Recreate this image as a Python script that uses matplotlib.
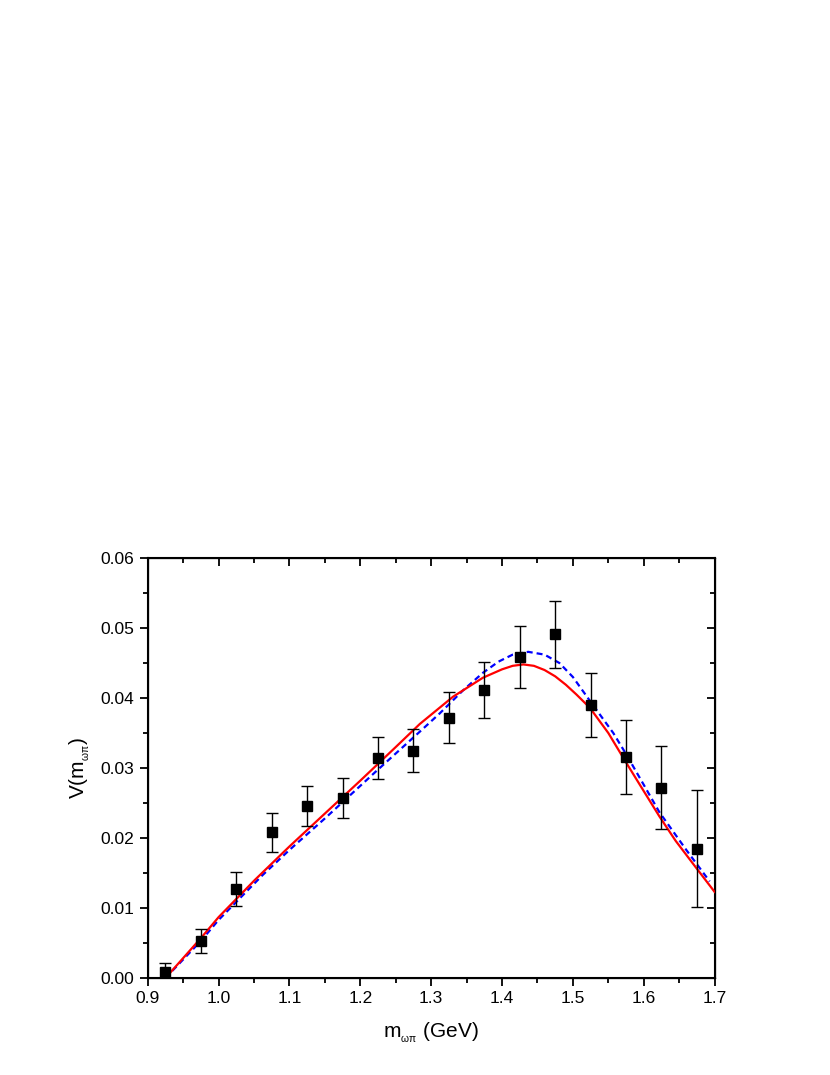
import numpy as np
import matplotlib
matplotlib.use('Agg')
import matplotlib.pyplot as plt
from matplotlib.ticker import MultipleLocator, FormatStrFormatter

plt.rcParams['font.family'] = ['Liberation Sans', 'DejaVu Sans']
plt.rcParams['mathtext.fontset'] = 'custom'
plt.rcParams['mathtext.rm'] = 'Liberation Sans'
plt.rcParams['mathtext.it'] = 'Liberation Sans'

# data points with errors
m_data = [0.925, 0.975, 1.025, 1.075, 1.125, 1.175, 1.225, 1.275,
          1.325, 1.375, 1.425, 1.475, 1.525, 1.575, 1.625, 1.675]
v_data = [0.0008, 0.0053, 0.0127, 0.0208, 0.0246, 0.0257, 0.0315, 0.0325,
          0.0372, 0.0411, 0.0459, 0.0491, 0.0390, 0.0316, 0.0272, 0.0185]
v_err = [0.0014, 0.0017, 0.0024, 0.0028, 0.0029, 0.0029, 0.0030, 0.0031,
         0.0036, 0.0040, 0.0044, 0.0048, 0.0046, 0.0053, 0.0059, 0.0084]

# red solid curve
m_red = [0.925, 0.975, 1.0, 1.051, 1.1, 1.15, 1.2, 1.25, 1.284, 1.331, 1.373,
         1.40, 1.415, 1.43, 1.445, 1.46, 1.475, 1.49, 1.505, 1.524, 1.55, 1.575,
         1.60, 1.622, 1.645, 1.669, 1.7]
v_red = [0.0, 0.0057, 0.0087, 0.0140, 0.0188, 0.0235, 0.0282, 0.0330, 0.0363,
         0.0402, 0.0429, 0.0441, 0.0446, 0.0448, 0.0446, 0.0440, 0.0431, 0.0419,
         0.0405, 0.0386, 0.0350, 0.0308, 0.0267, 0.0231, 0.0196, 0.0164, 0.0123]

# blue dashed curve
m_blue = [0.925, 0.975, 1.0, 1.062, 1.1, 1.15, 1.223, 1.284, 1.312, 1.345, 1.373,
          1.395, 1.415, 1.437, 1.46, 1.481, 1.50, 1.524, 1.557, 1.575, 1.60,
          1.622, 1.66, 1.693]
v_blue = [0.0, 0.0053, 0.0083, 0.0147, 0.0183, 0.0228, 0.0296, 0.0352, 0.0378,
          0.0411, 0.0436, 0.0452, 0.0462, 0.0466, 0.0462, 0.0450, 0.0430, 0.0396,
          0.0350, 0.0320, 0.0276, 0.0237, 0.0183, 0.0138]

fig = plt.figure(figsize=(8.3, 10.75), dpi=100)
ax = fig.add_axes([0.178, 0.0902, 0.683, 0.3907])

ax.plot(m_blue, v_blue, color='blue', lw=1.6, dashes=(2.7, 1.8), zorder=2)
ax.plot(m_red, v_red, color='red', lw=1.6, zorder=3)
ax.errorbar(m_data, v_data, yerr=v_err, fmt='s', color='black', ms=7,
            ecolor='black', elinewidth=1.0, capsize=4, capthick=1.0, zorder=4)

ax.set_xlim(0.9, 1.7)
ax.set_ylim(0.0, 0.06)
ax.xaxis.set_major_locator(MultipleLocator(0.1))
ax.xaxis.set_minor_locator(MultipleLocator(0.05))
ax.yaxis.set_major_locator(MultipleLocator(0.01))
ax.yaxis.set_minor_locator(MultipleLocator(0.005))
ax.xaxis.set_major_formatter(FormatStrFormatter('%.1f'))
ax.yaxis.set_major_formatter(FormatStrFormatter('%.2f'))
ax.tick_params(which='major', direction='out', length=6, width=1.3, labelsize=12.5)
ax.tick_params(which='minor', direction='out', length=3.5, width=1.3)
for s in ax.spines.values():
    s.set_linewidth(1.5)

# inward ticks on top and right
axt = ax.twiny()
axr = ax.twinx()
axt.set_xlim(ax.get_xlim())
axr.set_ylim(ax.get_ylim())
axt.xaxis.set_major_locator(MultipleLocator(0.1))
axt.xaxis.set_minor_locator(MultipleLocator(0.05))
axr.yaxis.set_major_locator(MultipleLocator(0.01))
axr.yaxis.set_minor_locator(MultipleLocator(0.005))
for a in (axt, axr):
    a.tick_params(which='major', direction='in', length=6, width=1.3,
                  labeltop=False, labelright=False)
    a.tick_params(which='minor', direction='in', length=3.5, width=1.3)

ax.set_xlabel(r'm$_{_{\omega\pi}}$ (GeV)', fontsize=15, labelpad=10)
ax.set_ylabel(r'V(m$_{_{\omega\pi}}$)', fontsize=15, labelpad=6)

fig.savefig('out.png', dpi=100)
